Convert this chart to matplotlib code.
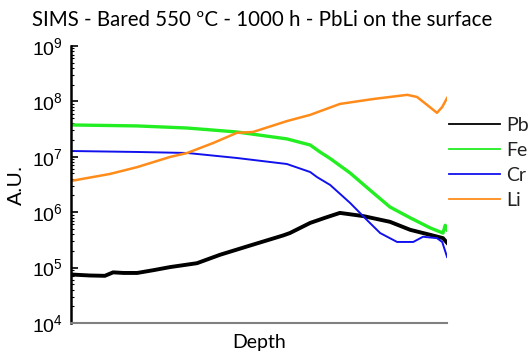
"""SIMS depth profile, bared sample at 550 C after 1000 h."""

import matplotlib
matplotlib.use("Agg")
import matplotlib.pyplot as plt
from matplotlib.ticker import LogLocator, NullFormatter, NullLocator

plt.rcParams["mathtext.default"] = "regular"

# depth in arbitrary units (0 = surface), counts
pb_depth = [0, 5, 9, 11.2, 14, 17.6, 22, 26.3, 33.5, 39.6, 47.6, 56.4, 58.2,
            63.6, 67.5, 71.5, 77.7, 84.8, 90.2, 95.5, 98.9, 100]
pb_counts = [7.5e4, 7.2e4, 7.1e4, 8.2e4, 8.0e4, 8.0e4, 9.0e4, 1.02e5, 1.2e5,
             1.7e5, 2.5e5, 3.8e5, 4.2e5, 6.4e5, 7.9e5, 9.7e5, 8.5e5, 6.7e5,
             4.8e5, 3.9e5, 3.4e5, 2.8e5]

fe_depth = [0, 17.6, 30.9, 44.1, 57.4, 63.6, 66.2, 68.9, 74.2, 79.5, 84.8, 90.2,
            95.5, 98.9, 99.5, 100]
fe_counts = [3.75e7, 3.6e7, 3.3e7, 2.8e7, 2.1e7, 1.63e7, 1.22e7, 9.3e6, 5.1e6,
             2.5e6, 1.24e6, 7.9e5, 5.2e5, 4.2e5, 5.8e5, 4.8e5]

cr_depth = [0, 17.6, 30.9, 44.1, 57.4, 63.6, 65.4, 68.9, 74.2, 78.7, 82.2, 86.7,
            91.0, 93.6, 97.3, 98.7, 100]
cr_counts = [1.27e7, 1.22e7, 1.17e7, 9.5e6, 7.4e6, 5.3e6, 4.3e6, 3.1e6, 1.47e6,
             7.2e5, 4.2e5, 2.9e5, 2.9e5, 3.6e5, 3.4e5, 2.9e5, 1.55e5]

li_depth = [0, 10.4, 17.6, 26.3, 30.9, 37.8, 44.1, 48.4, 57.4, 63.6, 71.5, 80.3,
            89.4, 92.0, 94.7, 97.3, 98.7, 100]
li_counts = [3.66e6, 4.9e6, 6.5e6, 9.9e6, 1.17e7, 1.77e7, 2.7e7, 2.8e7, 4.4e7,
             5.7e7, 8.98e7, 1.1e8, 1.31e8, 1.2e8, 8.6e7, 6.2e7, 7.9e7, 1.15e8]

fig = plt.figure(figsize=(5.31, 3.56), dpi=100)
ax = fig.add_axes([0.1337, 0.0927, 0.7083, 0.7783])

ax.plot(pb_depth, pb_counts, color="black", lw=2.8, label="Pb")
ax.plot(fe_depth, fe_counts, color="#22ee22", lw=2.4, label="Fe")
ax.plot(cr_depth, cr_counts, color="#1111ee", lw=1.4, label="Cr")
ax.plot(li_depth, li_counts, color="#ff8c1a", lw=1.8, label="Li")

ax.set_yscale("log")
ax.set_ylim(1e4, 1e9)
ax.set_xlim(0, 100)
ax.yaxis.set_major_locator(LogLocator(base=10, numticks=10))
ax.yaxis.set_minor_locator(LogLocator(base=10, subs=range(2, 10), numticks=10))
ax.yaxis.set_minor_formatter(NullFormatter())
ax.xaxis.set_major_locator(NullLocator())

for side in ["top", "right"]:
    ax.spines[side].set_visible(False)
ax.spines["left"].set_linewidth(1.8)
ax.spines["bottom"].set_color("#808080")
ax.spines["bottom"].set_linewidth(1.5)

ax.tick_params(axis="y", which="major", direction="in", length=5, width=1.2,
               labelsize=14, pad=6)
ax.tick_params(axis="y", which="minor", direction="in", length=2.5, width=0.8)
for lab in ax.get_yticklabels():
    lab.set_fontfamily("Liberation Sans")

ax.set_ylabel("A.U.", fontsize=15, family="Liberation Sans", labelpad=4)
ax.set_xlabel("Depth", fontsize=14, family="Lato", labelpad=8)
fig.text(0.06, 0.945, "SIMS - Bared 550 ºC - 1000 h - PbLi on the surface",
         fontsize=14.8, family="Lato", ha="left", va="center")

leg = ax.legend(loc="upper left", bbox_to_anchor=(1.0, 0.752), frameon=False,
                prop={"family": "Lato", "size": 14}, handlelength=2.6,
                labelspacing=0.42, handletextpad=0.35, borderaxespad=0.0,
                borderpad=0.1)
for line in leg.get_lines():
    line.set_linewidth(1.3)
for text in leg.get_texts():
    text.set_color("#222222")

fig.savefig("out.png", dpi=100)
